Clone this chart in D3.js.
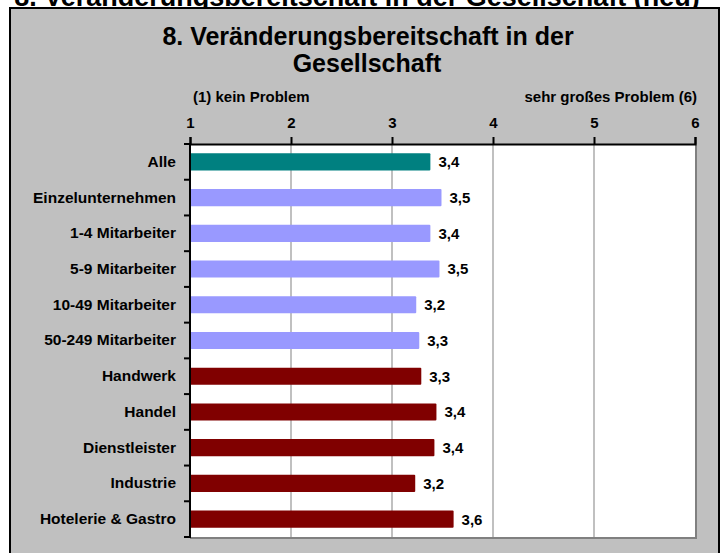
<!DOCTYPE html>
<html>
    <head>
        <meta charset="utf-8">
        <style>
            body { margin: 0; background: white; }
            svg text { font-family: "Liberation Sans", Arial, sans-serif; font-weight: bold; }
        </style>
    </head>
    <body>
        <div id="d3render"></div>
    </body>
    <script src="https://d3js.org/d3.v7.min.js"></script>
    <script>

        const categories = ['Alle', 'Einzelunternehmen', '1-4 Mitarbeiter', '5-9 Mitarbeiter', '10-49 Mitarbeiter', '50-249 Mitarbeiter', 'Handwerk', 'Handel', 'Dienstleister', 'Industrie', 'Hotelerie & Gastro'];
        const values = [3.38, 3.49, 3.38, 3.47, 3.24, 3.27, 3.29, 3.44, 3.42, 3.23, 3.61];
        const groups = ['alle', 'groesse', 'groesse', 'groesse', 'groesse', 'groesse', 'branche', 'branche', 'branche', 'branche', 'branche'];
        const tickValues = [1, 2, 3, 4, 5, 6];

        const svgWidth = 721;
        const svgHeight = 553;
        const plotLeft = 190;
        const plotRight = 695;
        const plotTop = 144;
        const plotBottom = 537;

        const colors = { alle: '#008080', groesse: '#9999ff', branche: '#800000' };

        const svg = d3.select('#d3render')
        .append('svg')
        .attr('width', svgWidth)
        .attr('height', svgHeight)

        // heading of the page above, only its lower edge shows
        svg.append('text')
        .attr('x', 357)
        .attr('y', 6)
        .attr('text-anchor', 'middle')
        .style('font-size', '27px')
        .text('8. Veränderungsbereitschaft in der Gesellschaft (neu)')

        // chart area
        svg.append('rect')
        .attr('x', 10)
        .attr('y', 8)
        .attr('width', 709)
        .attr('height', 560)
        .attr('fill', '#c0c0c0')
        .attr('stroke', 'black')
        .attr('stroke-width', 2)

        const xScale = d3.scaleLinear()
        .domain([1, 6])
        .range([plotLeft, plotRight])

        const yScale = d3.scaleBand()
        .domain(categories)
        .range([plotTop, plotBottom])
        .paddingInner(0.52)
        .paddingOuter(0.26)

        svg.append('rect')
        .attr('x', plotLeft)
        .attr('y', plotTop)
        .attr('width', plotRight - plotLeft)
        .attr('height', plotBottom - plotTop)
        .attr('fill', 'white')

        // grid
        svg.append('g')
        .selectAll('line')
        .data(tickValues.slice(1, -1))
        .enter()
        .append('line')
        .attr('x1', d => xScale(d))
        .attr('x2', d => xScale(d))
        .attr('y1', plotTop)
        .attr('y2', plotBottom)
        .attr('stroke', '#c0c0c0')
        .attr('stroke-width', 2)

        // grey shadow on right and bottom of plot area
        svg.append('path')
        .attr('d', `M${plotRight + 1},${plotTop} V${plotBottom + 1} H${plotLeft}`)
        .attr('fill', 'none')
        .attr('stroke', '#808080')
        .attr('stroke-width', 2)

        const rows = categories.map((c, i) => ({ name: c, value: values[i], group: groups[i] }));

        svg.append('g')
        .selectAll('rect')
        .data(rows)
        .enter()
        .append('rect')
        .attr('x', xScale(1))
        .attr('y', d => yScale(d.name))
        .attr('width', d => xScale(d.value) - xScale(1))
        .attr('height', yScale.bandwidth())
        .attr('rx', 1)
        .attr('fill', d => colors[d.group])

        const fmt = d3.format('.1f');

        svg.append('g')
        .selectAll('text')
        .data(rows)
        .enter()
        .append('text')
        .attr('x', d => xScale(d.value) + 8)
        .attr('y', d => yScale(d.name) + yScale.bandwidth() / 2)
        .attr('dy', '0.36em')
        .style('font-size', '15px')
        .text(d => fmt(d.value).replace('.', ','))

        // top axis
        const xAxis = d3.axisTop(xScale)
        .tickValues(tickValues)
        .tickSize(7)
        .tickPadding(9)
        .tickFormat(d3.format('d'))

        const xAxisG = svg.append('g')
        .attr('transform', `translate(0, ${plotTop})`)
        .call(xAxis)

        xAxisG.select('.domain').attr('stroke-width', 2)
        xAxisG.selectAll('.tick line').attr('stroke-width', 2)
        xAxisG.selectAll('.tick text')
        .style('font-size', '15px')
        .style('font-family', '"Liberation Sans", Arial, sans-serif')
        .attr('fill', 'black')

        // left axis: ticks sit between the categories
        const yAxis = d3.axisLeft(yScale).tickSize(0).tickPadding(14)

        const yAxisG = svg.append('g')
        .attr('transform', `translate(${plotLeft}, 0)`)
        .call(yAxis)

        yAxisG.select('.domain').remove()
        yAxisG.selectAll('.tick text')
        .style('font-size', '15.5px')
        .style('font-family', '"Liberation Sans", Arial, sans-serif')
        .attr('fill', 'black')

        const step = yScale.step();
        svg.append('g')
        .selectAll('line')
        .data(d3.range(categories.length + 1))
        .enter()
        .append('line')
        .attr('x1', plotLeft - 6)
        .attr('x2', plotLeft)
        .attr('y1', i => plotTop + i * step)
        .attr('y2', i => plotTop + i * step)
        .attr('stroke', 'black')
        .attr('stroke-width', 2)

        svg.append('line')
        .attr('x1', plotLeft)
        .attr('x2', plotLeft)
        .attr('y1', plotTop - 1)
        .attr('y2', plotBottom + 1)
        .attr('stroke', 'black')
        .attr('stroke-width', 2)

        // titles
        svg.append('text')
        .attr('x', 368)
        .attr('y', 45)
        .attr('text-anchor', 'middle')
        .style('font-size', '25px')
        .text('8. Veränderungsbereitschaft in der')

        svg.append('text')
        .attr('x', 367)
        .attr('y', 72)
        .attr('text-anchor', 'middle')
        .style('font-size', '25px')
        .text('Gesellschaft')

        svg.append('text')
        .attr('x', 193)
        .attr('y', 102)
        .style('font-size', '15px')
        .text('(1) kein Problem')

        svg.append('text')
        .attr('x', 697)
        .attr('y', 102)
        .attr('text-anchor', 'end')
        .style('font-size', '15px')
        .text('sehr großes Problem (6)')

    </script>
</html>
